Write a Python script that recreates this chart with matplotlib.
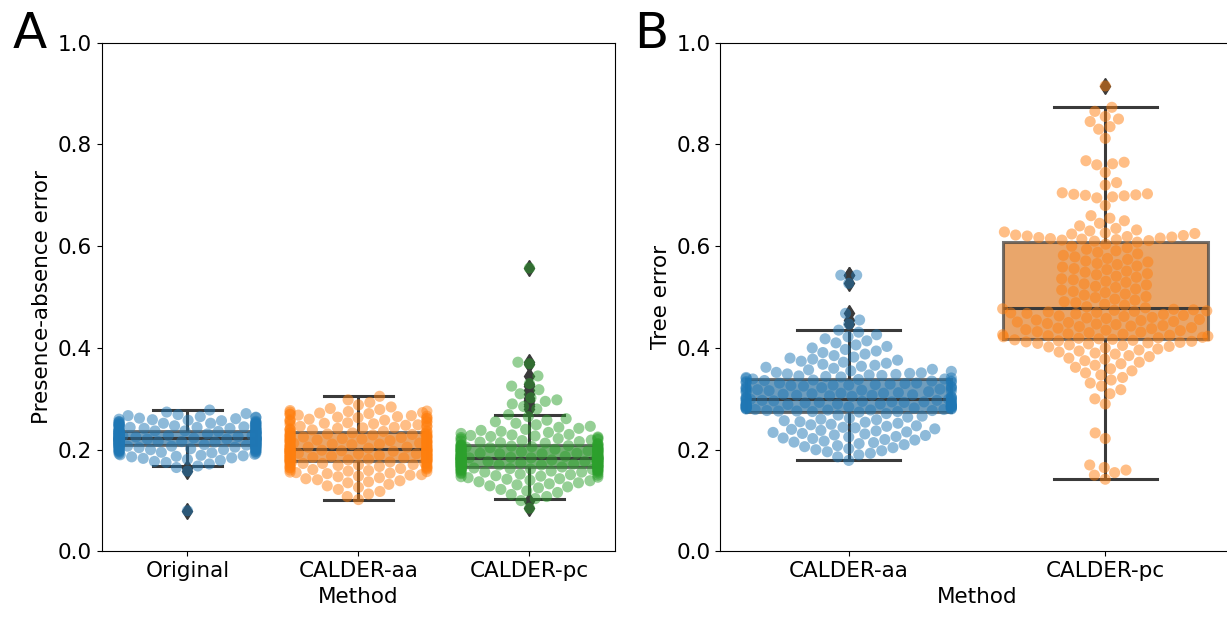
import numpy as np
import pandas as pd
import matplotlib
matplotlib.use("Agg")
import matplotlib.pyplot as plt
import seaborn as sns
import warnings

warnings.filterwarnings("ignore")  # swarm overflow warnings are expected

# ─── DATA ─────────────────────────────────────────────────────
METHODS_A = ["Original", "CALDER-aa", "CALDER-pc"]
METHODS_B = ["CALDER-aa", "CALDER-pc"]
COLORS_A  = ["#1f77b4", "#ff7f0e", "#2ca02c"]
COLORS_B  = ["#1f77b4", "#ff7f0e"]

ORIGINAL_PA = [
    0.080, 0.158, 0.165, 0.168, 0.172, 0.175, 0.177, 0.179, 0.181, 0.183,
    0.184, 0.186, 0.187, 0.188, 0.189, 0.190, 0.191, 0.192, 0.193, 0.194,
    0.195, 0.195, 0.196, 0.197, 0.197, 0.198, 0.199, 0.199, 0.200, 0.200,
    0.201, 0.201, 0.202, 0.202, 0.203, 0.203, 0.204, 0.204, 0.205, 0.205,
    0.205, 0.206, 0.206, 0.206, 0.207, 0.207, 0.207, 0.208, 0.208, 0.208,
    0.209, 0.209, 0.209, 0.210, 0.210, 0.210, 0.211, 0.211, 0.211, 0.212,
    0.212, 0.212, 0.213, 0.213, 0.213, 0.214, 0.214, 0.214, 0.215, 0.215,
    0.215, 0.216, 0.216, 0.216, 0.217, 0.217, 0.217, 0.217, 0.218, 0.218,
    0.218, 0.218, 0.219, 0.219, 0.219, 0.219, 0.220, 0.220, 0.220, 0.220,
    0.221, 0.221, 0.221, 0.221, 0.222, 0.222, 0.222, 0.222, 0.222, 0.222,
    0.223, 0.223, 0.223, 0.223, 0.224, 0.224, 0.224, 0.224, 0.225, 0.225,
    0.225, 0.225, 0.226, 0.226, 0.226, 0.226, 0.227, 0.227, 0.227, 0.228,
    0.228, 0.228, 0.229, 0.229, 0.229, 0.230, 0.230, 0.230, 0.231, 0.231,
    0.231, 0.232, 0.232, 0.232, 0.233, 0.233, 0.233, 0.234, 0.234, 0.234,
    0.235, 0.235, 0.235, 0.236, 0.236, 0.236, 0.237, 0.237, 0.237, 0.237,
    0.238, 0.238, 0.239, 0.239, 0.240, 0.240, 0.241, 0.241, 0.242, 0.242,
    0.243, 0.243, 0.244, 0.244, 0.245, 0.245, 0.246, 0.246, 0.247, 0.247,
    0.248, 0.248, 0.249, 0.249, 0.250, 0.250, 0.251, 0.251, 0.252, 0.252,
    0.253, 0.253, 0.254, 0.255, 0.255, 0.256, 0.257, 0.258, 0.259, 0.260,
    0.261, 0.262, 0.263, 0.264, 0.265, 0.267, 0.269, 0.271, 0.274, 0.278,
]

CALDER_AA_PA = [
    0.102, 0.108, 0.113, 0.118, 0.122, 0.126, 0.129, 0.132, 0.135, 0.137,
    0.139, 0.141, 0.143, 0.145, 0.147, 0.148, 0.150, 0.151, 0.153, 0.154,
    0.155, 0.156, 0.157, 0.158, 0.159, 0.160, 0.161, 0.162, 0.163, 0.164,
    0.164, 0.165, 0.166, 0.167, 0.168, 0.168, 0.169, 0.170, 0.171, 0.171,
    0.172, 0.173, 0.173, 0.174, 0.175, 0.175, 0.176, 0.176, 0.177, 0.177,
    0.178, 0.178, 0.179, 0.179, 0.180, 0.180, 0.181, 0.181, 0.182, 0.182,
    0.183, 0.183, 0.184, 0.184, 0.185, 0.185, 0.186, 0.186, 0.187, 0.187,
    0.188, 0.188, 0.189, 0.189, 0.190, 0.190, 0.191, 0.191, 0.192, 0.192,
    0.193, 0.193, 0.194, 0.194, 0.195, 0.195, 0.196, 0.196, 0.197, 0.197,
    0.198, 0.198, 0.198, 0.199, 0.199, 0.199, 0.200, 0.200, 0.201, 0.201,
    0.202, 0.202, 0.203, 0.203, 0.204, 0.205, 0.205, 0.206, 0.207, 0.207,
    0.208, 0.209, 0.209, 0.210, 0.211, 0.211, 0.212, 0.213, 0.213, 0.214,
    0.215, 0.215, 0.216, 0.217, 0.217, 0.218, 0.219, 0.219, 0.220, 0.221,
    0.221, 0.222, 0.223, 0.223, 0.224, 0.225, 0.225, 0.226, 0.227, 0.227,
    0.228, 0.229, 0.229, 0.230, 0.231, 0.231, 0.232, 0.233, 0.233, 0.234,
    0.235, 0.236, 0.237, 0.238, 0.239, 0.240, 0.241, 0.242, 0.243, 0.244,
    0.245, 0.246, 0.247, 0.248, 0.249, 0.250, 0.251, 0.252, 0.253, 0.254,
    0.255, 0.256, 0.257, 0.258, 0.259, 0.260, 0.261, 0.262, 0.263, 0.264,
    0.265, 0.266, 0.267, 0.268, 0.269, 0.270, 0.271, 0.272, 0.273, 0.274,
    0.275, 0.276, 0.277, 0.279, 0.281, 0.284, 0.288, 0.293, 0.298, 0.305,
]

CALDER_PC_PA = [
    0.085, 0.100, 0.104, 0.108, 0.112, 0.116, 0.119, 0.122, 0.125, 0.127,
    0.129, 0.131, 0.133, 0.135, 0.137, 0.139, 0.140, 0.142, 0.143, 0.145,
    0.146, 0.147, 0.148, 0.149, 0.150, 0.151, 0.152, 0.153, 0.154, 0.155,
    0.156, 0.156, 0.157, 0.158, 0.158, 0.159, 0.160, 0.160, 0.161, 0.161,
    0.162, 0.162, 0.163, 0.163, 0.164, 0.164, 0.165, 0.165, 0.166, 0.166,
    0.167, 0.167, 0.167, 0.168, 0.168, 0.168, 0.169, 0.169, 0.170, 0.170,
    0.171, 0.171, 0.172, 0.172, 0.172, 0.173, 0.173, 0.174, 0.174, 0.175,
    0.175, 0.175, 0.176, 0.176, 0.177, 0.177, 0.177, 0.178, 0.178, 0.179,
    0.179, 0.179, 0.180, 0.180, 0.181, 0.181, 0.181, 0.182, 0.182, 0.182,
    0.183, 0.183, 0.183, 0.183, 0.184, 0.184, 0.184, 0.184, 0.184, 0.184,
    0.185, 0.185, 0.186, 0.186, 0.187, 0.187, 0.188, 0.188, 0.189, 0.189,
    0.190, 0.190, 0.191, 0.191, 0.192, 0.192, 0.193, 0.193, 0.194, 0.194,
    0.195, 0.195, 0.196, 0.196, 0.197, 0.197, 0.198, 0.198, 0.199, 0.199,
    0.200, 0.200, 0.201, 0.201, 0.202, 0.202, 0.203, 0.203, 0.204, 0.204,
    0.205, 0.205, 0.206, 0.206, 0.207, 0.207, 0.208, 0.208, 0.209, 0.209,
    0.210, 0.211, 0.212, 0.213, 0.214, 0.215, 0.216, 0.217, 0.218, 0.219,
    0.220, 0.221, 0.222, 0.223, 0.224, 0.225, 0.226, 0.227, 0.228, 0.229,
    0.230, 0.232, 0.234, 0.236, 0.238, 0.240, 0.242, 0.244, 0.246, 0.249,
    0.252, 0.255, 0.258, 0.261, 0.265, 0.269, 0.280, 0.285, 0.290, 0.295,
    0.298, 0.302, 0.310, 0.318, 0.325, 0.330, 0.345, 0.369, 0.372, 0.557,
]

CALDER_AA_TREE = [
    0.179, 0.186, 0.190, 0.193, 0.196, 0.198, 0.200, 0.202, 0.204, 0.206,
    0.208, 0.210, 0.212, 0.214, 0.215, 0.217, 0.219, 0.220, 0.222, 0.223,
    0.225, 0.226, 0.228, 0.229, 0.231, 0.232, 0.234, 0.235, 0.237, 0.238,
    0.240, 0.241, 0.243, 0.244, 0.246, 0.247, 0.249, 0.250, 0.252, 0.254,
    0.255, 0.257, 0.259, 0.260, 0.262, 0.264, 0.266, 0.268, 0.271, 0.274,
    0.275, 0.275, 0.276, 0.276, 0.277, 0.277, 0.278, 0.278, 0.279, 0.279,
    0.280, 0.280, 0.281, 0.281, 0.282, 0.282, 0.283, 0.283, 0.284, 0.284,
    0.285, 0.285, 0.286, 0.286, 0.287, 0.287, 0.288, 0.288, 0.289, 0.289,
    0.290, 0.290, 0.291, 0.291, 0.292, 0.292, 0.293, 0.293, 0.294, 0.294,
    0.295, 0.295, 0.296, 0.296, 0.297, 0.297, 0.298, 0.298, 0.299, 0.299,
    0.300, 0.301, 0.302, 0.303, 0.303, 0.304, 0.305, 0.306, 0.307, 0.307,
    0.308, 0.309, 0.310, 0.311, 0.311, 0.312, 0.313, 0.314, 0.315, 0.315,
    0.316, 0.317, 0.318, 0.319, 0.319, 0.320, 0.321, 0.322, 0.323, 0.323,
    0.324, 0.325, 0.326, 0.327, 0.327, 0.328, 0.329, 0.330, 0.331, 0.331,
    0.332, 0.333, 0.334, 0.335, 0.335, 0.336, 0.337, 0.338, 0.339, 0.339,
    0.340, 0.341, 0.342, 0.343, 0.344, 0.345, 0.346, 0.347, 0.348, 0.349,
    0.350, 0.351, 0.352, 0.354, 0.355, 0.357, 0.358, 0.360, 0.362, 0.364,
    0.366, 0.368, 0.370, 0.372, 0.374, 0.376, 0.378, 0.380, 0.382, 0.385,
    0.388, 0.391, 0.394, 0.397, 0.400, 0.403, 0.406, 0.410, 0.414, 0.418,
    0.422, 0.426, 0.431, 0.435, 0.447, 0.455, 0.468, 0.527, 0.543, 0.543,
]

CALDER_PC_TREE = [
    0.142, 0.150, 0.155, 0.160, 0.165, 0.170, 0.222, 0.233, 0.290, 0.300,
    0.310, 0.318, 0.325, 0.331, 0.337, 0.342, 0.347, 0.351, 0.355, 0.359,
    0.362, 0.366, 0.369, 0.372, 0.375, 0.378, 0.380, 0.383, 0.385, 0.388,
    0.390, 0.392, 0.394, 0.396, 0.398, 0.400, 0.402, 0.403, 0.405, 0.406,
    0.408, 0.409, 0.410, 0.411, 0.412, 0.413, 0.414, 0.415, 0.416, 0.417,
    0.418, 0.419, 0.420, 0.421, 0.422, 0.423, 0.424, 0.425, 0.426, 0.427,
    0.428, 0.430, 0.431, 0.432, 0.434, 0.435, 0.436, 0.438, 0.439, 0.440,
    0.442, 0.443, 0.444, 0.446, 0.447, 0.448, 0.450, 0.451, 0.452, 0.454,
    0.455, 0.456, 0.458, 0.459, 0.460, 0.462, 0.463, 0.464, 0.466, 0.467,
    0.468, 0.469, 0.470, 0.471, 0.472, 0.473, 0.474, 0.475, 0.476, 0.477,
    0.479, 0.481, 0.484, 0.486, 0.489, 0.491, 0.494, 0.496, 0.499, 0.501,
    0.504, 0.506, 0.509, 0.511, 0.514, 0.516, 0.519, 0.521, 0.524, 0.526,
    0.529, 0.531, 0.534, 0.536, 0.539, 0.541, 0.544, 0.546, 0.549, 0.551,
    0.554, 0.556, 0.559, 0.561, 0.564, 0.566, 0.569, 0.571, 0.574, 0.576,
    0.579, 0.582, 0.585, 0.588, 0.591, 0.594, 0.597, 0.600, 0.604, 0.608,
    0.610, 0.611, 0.612, 0.613, 0.614, 0.615, 0.616, 0.617, 0.618, 0.619,
    0.620, 0.621, 0.622, 0.624, 0.625, 0.626, 0.628, 0.630, 0.632, 0.635,
    0.640, 0.645, 0.650, 0.655, 0.660, 0.680, 0.695, 0.697, 0.699, 0.700,
    0.701, 0.702, 0.703, 0.705, 0.720, 0.725, 0.745, 0.760, 0.762, 0.765,
    0.768, 0.812, 0.830, 0.835, 0.845, 0.850, 0.855, 0.865, 0.873, 0.915,
]
# ──────────────────────────────────────────────────────────────

plt.rcParams['font.family'] = ['DejaVu Sans']
plt.rcParams['font.size'] = 15.5

LINE_COLOR = "#3a3a3a"


def to_frame(names, groups):
    # Long-form table: one row per sample
    rows = []
    for name, vals in zip(names, groups):
        for v in vals:
            rows.append((name, v))
    return pd.DataFrame(rows, columns=["Method", "Error"])


def draw_panel(ax, df, names, colors, ylabel):
    sns.boxplot(data=df, x="Method", y="Error", hue="Method",
                order=names, hue_order=names, palette=colors, legend=False,
                width=0.8, linewidth=2.2, linecolor=LINE_COLOR, fliersize=8,
                flierprops=dict(marker="d", markerfacecolor=LINE_COLOR,
                                markeredgecolor=LINE_COLOR),
                boxprops=dict(alpha=0.7), ax=ax)
    sns.swarmplot(data=df, x="Method", y="Error", hue="Method",
                  order=names, hue_order=names, palette=colors, legend=False,
                  size=8, alpha=0.5, ax=ax)
    ax.set_ylim(0, 1.0)
    ax.set_xlim(-0.5, len(names) - 0.5)
    ax.set_yticks(np.arange(0, 1.01, 0.2))
    ax.set_ylabel(ylabel)
    ax.set_xlabel("Method")


fig = plt.figure(figsize=(12.27, 6.17), dpi=100)
ax_a = fig.add_axes([0.0831, 0.1062, 0.4181, 0.8246])
ax_b = fig.add_axes([0.5872, 0.1062, 0.4181, 0.8246])

df_a = to_frame(METHODS_A, [ORIGINAL_PA, CALDER_AA_PA, CALDER_PC_PA])
df_b = to_frame(METHODS_B, [CALDER_AA_TREE, CALDER_PC_TREE])

draw_panel(ax_a, df_a, METHODS_A, COLORS_A, "Presence-absence error")
draw_panel(ax_b, df_b, METHODS_B, COLORS_B, "Tree error")

fig.text(0.010, 0.922, "A", fontsize=36)
fig.text(0.517, 0.922, "B", fontsize=36)

fig.savefig("out.png", dpi=100)
